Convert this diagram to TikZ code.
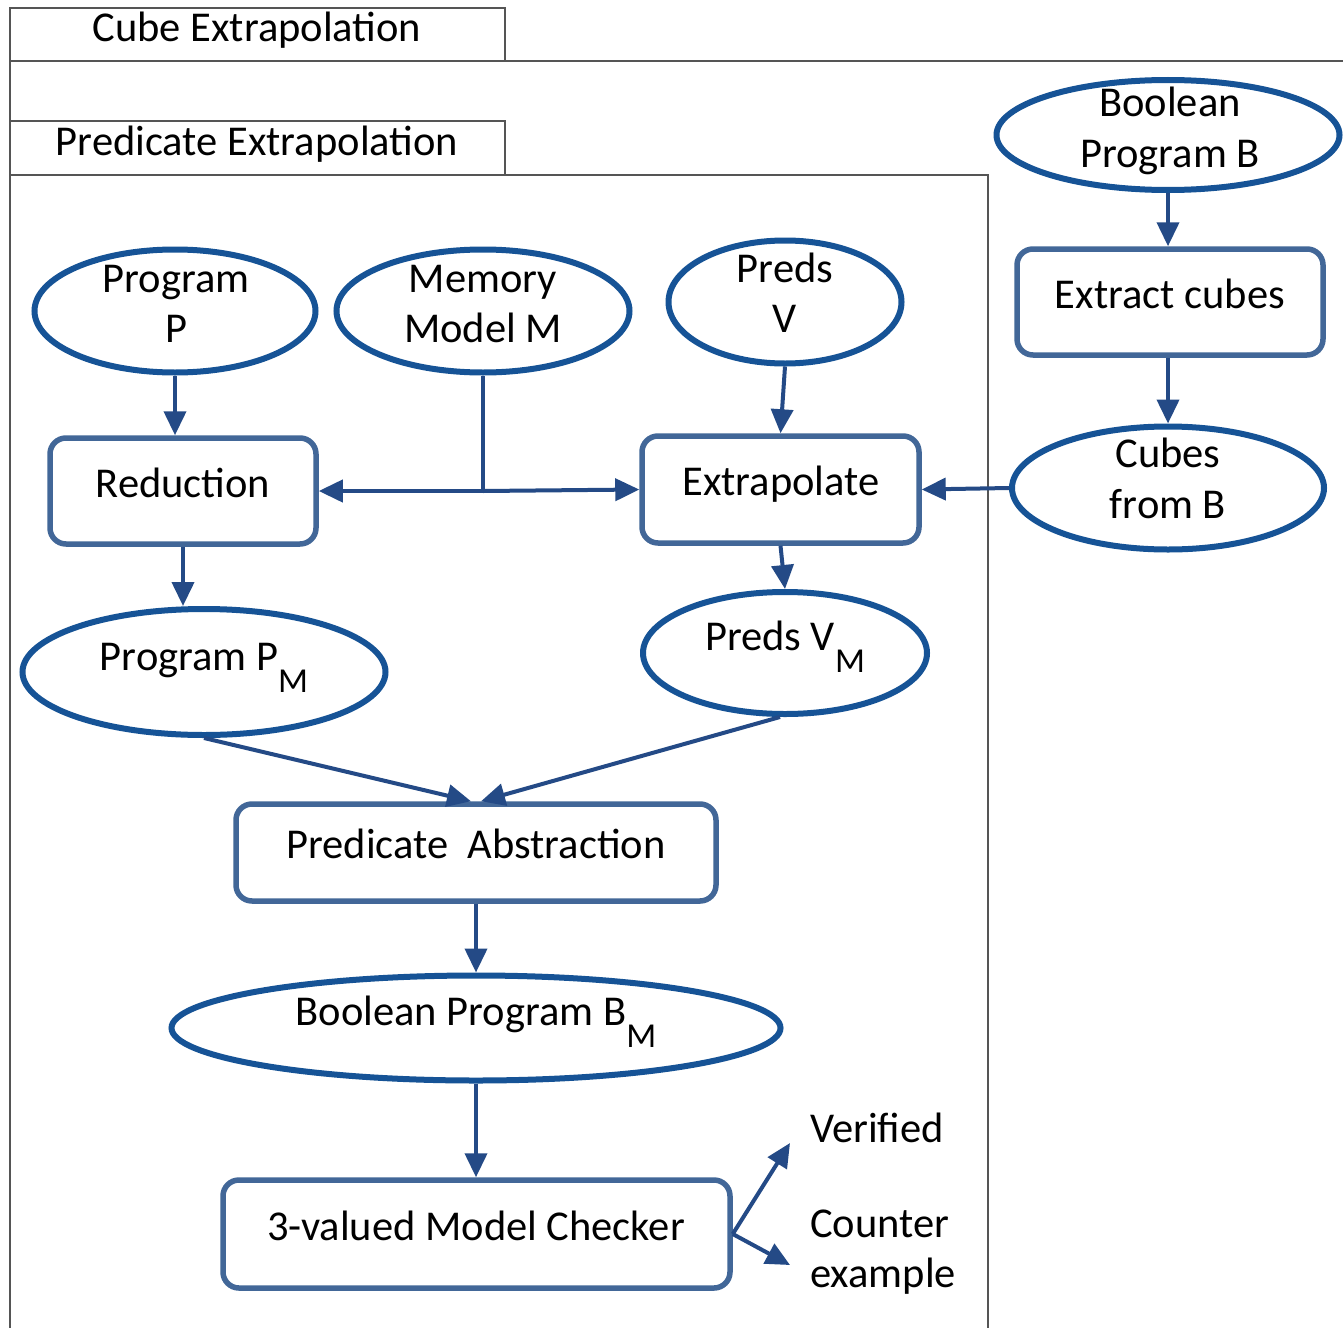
\documentclass[tikz,border=0pt]{standalone}
\usepackage{fontspec}
\setmainfont{Carlito}
\usetikzlibrary{arrows.meta,shapes.geometric}
\definecolor{ellc}{RGB}{22,83,150}
\definecolor{boxc}{RGB}{66,103,152}
\definecolor{arrc}{RGB}{36,74,134}
\definecolor{framec}{RGB}{85,85,85}
\newcommand\lowsub[1]{\smash{\raisebox{-22pt}{\fontsize{35}{35}\selectfont #1}}}
\begin{document}
\begin{tikzpicture}[x=1pt,y=-1pt,
  ell/.style={ellipse, draw=ellc, line width=6pt, inner sep=0pt},
  box/.style={draw=boxc, line width=5.5pt, rounded corners=16pt, inner sep=0pt},
  txt/.style={inner sep=0pt, anchor=base, font=\fontsize{42.5}{50}\selectfont},
  ltxt/.style={txt, anchor=base west},
  conn/.style={draw=arrc, line width=4pt},
  arr/.style={conn, -{Triangle[length=24pt,width=22pt]}},
  frame/.style={draw=framec, line width=2pt}]
\useasboundingbox (0,0) rectangle (1343,1327);
\fill[white] (0,0) rectangle (1343,1327);

% frames
\draw[frame] (10,8) rectangle (505,61);
\draw[frame] (10,61) -- (1343,61);
\draw[frame] (10,8) -- (10,1330);
\draw[frame] (10,121) rectangle (505,175);
\draw[frame] (10,175) -- (988,175) -- (988,1330);
\node[txt] (tcube) at (257,42) {Cube Extrapolation};
\node[txt] (tpred) at (257,155) {Predicate Extrapolation};

% shapes
\node[ell, minimum width=281pt, minimum height=123pt] (pp) at (175,311) {};
\node[ell, minimum width=293pt, minimum height=123pt] (mm) at (483,311) {};
\node[ell, minimum width=233pt, minimum height=123pt] (pv) at (785,302) {};
\node[ell, minimum width=343pt, minimum height=110pt] (bb) at (1168,135) {};
\node[ell, minimum width=312pt, minimum height=123pt] (cb) at (1168,488) {};
\node[ell, minimum width=363pt, minimum height=126pt] (ppm) at (204,672) {};
\node[ell, minimum width=284pt, minimum height=122pt] (pvm) at (785,653) {};
\node[ell, minimum width=609pt, minimum height=105pt] (bm) at (476,1028) {};

\node[box, minimum width=266pt, minimum height=106pt] (red) at (183,491) {};
\node[box, minimum width=277pt, minimum height=107pt] (ext) at (780.5,489.5) {};
\node[box, minimum width=306pt, minimum height=106pt] (exc) at (1170,302) {};
\node[box, minimum width=480pt, minimum height=97pt] (pa) at (476,852.5) {};
\node[box, minimum width=507pt, minimum height=108pt] (mc) at (476.5,1234) {};

% texts
\node[txt] (pp1) at (176,292) {Program};
\node[txt] (pp2) at (176,342) {P};
\node[txt] (mm1) at (483,292) {Memory};
\node[txt] (mm2) at (483,342) {Model M};
\node[txt] (pv1) at (785,282) {Preds};
\node[txt] (pv2) at (785,332) {V};
\node[txt] (bb1) at (1170,117) {Boolean};
\node[txt] (bb2) at (1170,167) {Program B};
\node[txt] (exct) at (1170,308) {Extract cubes};
\node[txt] (cb1) at (1168,467) {Cubes};
\node[txt] (cb2) at (1168,518) {from B};
\node[txt] (redt) at (183,497) {Reduction};
\node[txt] (extt) at (781,495) {Extrapolate};
\node[txt] (ppmt) at (204,670) {Program P\lowsub{M}};
\node[txt] (pvmt) at (785,650) {Preds V\lowsub{M}};
\node[txt] (pat) at (476,858) {Predicate\ \ Abstraction};
\node[txt] (bmt) at (476,1025) {Boolean Program B\lowsub{M}};
\node[txt] (mct) at (476,1240) {3-valued Model Checker};
\node[ltxt] (ver) at (810,1142) {Verified};
\node[ltxt] (ce1) at (810,1237) {Counter};
\node[ltxt] (ce2) at (810,1287) {example};

% connectors
\draw[arr] (pp.south) -- (pp.south |- red.north);
\coordinate (j) at (mm.south |- red.east);
\draw[conn] (mm.south) -- (j);
\draw[arr] (j) -- (red.east);
\draw[arr] (j) -- (ext.west);
\draw[arr] (pv.south) -- (ext.north);
\draw[arr] (bb.south) -- (bb.south |- exc.north);
\draw[arr] (bb.south |- exc.south) -- (cb.north);
\draw[arr] (cb.west) -- (ext.east);
\draw[arr] (red.south) -- (red.south |- ppm.north);
\draw[arr] (ext.south) -- (pvm.north);
\draw[arr] (ppm.south) -- ([xshift=-5pt]pa.north);
\draw[arr] ([xshift=-5pt]pvm.south) -- ([xshift=5pt]pa.north);
\draw[arr] (pa.south) -- (bm.north);
\draw[arr] (bm.south) -- (bm.south |- mc.north);
\coordinate (vt) at (790,1143);
\coordinate (ct) at (790,1265);
\draw[arr] (mc.east) -- (vt);
\draw[arr] (mc.east) -- (ct);
\end{tikzpicture}
\end{document}
